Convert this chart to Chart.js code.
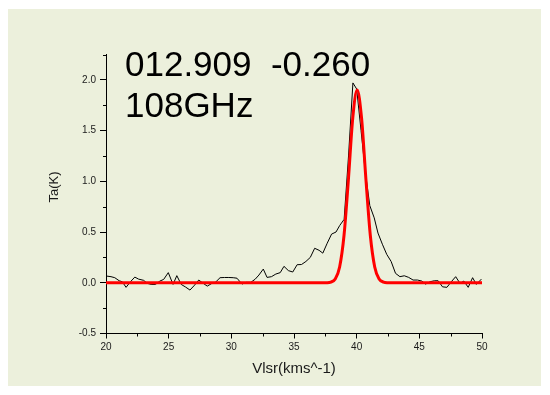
<!DOCTYPE html>
<html>
<head>
<meta charset="UTF-8">
<title>012.909 -0.260 108GHz</title>
<script src="https://cdn.jsdelivr.net/npm/chart.js"></script>
<style>
  body { margin: 0; background: #fff; }
  canvas { display: block; }
</style>
</head>
<body>
<canvas id="spec" width="550" height="395"></canvas>

<script>
    // observed spectrum (km/s, K)
    var obsV = [20.05, 20.4, 20.7, 21.05, 21.3, 21.6, 21.95, 22.3, 22.6, 23.0,
                23.3, 23.6, 23.95, 24.3, 24.6, 24.97, 25.35, 25.65, 26.0, 26.35,
                26.7, 27.07, 27.4, 27.76, 28.08, 28.45, 28.75, 29.1, 29.45, 29.8,
                30.15, 30.45, 30.85, 31.2, 31.55, 31.9, 32.2, 32.55, 32.85, 33.2,
                33.55, 33.9, 34.2, 34.55, 34.9, 35.25, 35.6, 35.95, 36.3, 36.65,
                37.0, 37.3, 37.65, 38.0, 38.35, 38.65, 39.0, 39.35, 39.7, 40.0,
                40.35, 40.7, 41.05, 41.4, 41.7, 42.05, 42.4, 42.75, 43.1, 43.45,
                43.8, 44.15, 44.5, 44.85, 45.2, 45.5, 45.85, 46.2, 46.5, 46.85,
                47.2, 47.55, 47.9, 48.25, 48.55, 48.9, 49.25, 49.55, 49.95];
    var obsT = [0.066, 0.06, 0.05, 0.02, 0.01, -0.045, 0.01, 0.056, 0.036, 0.024,
                -0.006, -0.016, -0.016, 0.017, 0.033, 0.1, -0.016, 0.07, -0.016, -0.042,
                -0.072, -0.023, 0.027, -0.006, -0.033, -0.006, 0.007, 0.05, 0.052, 0.052,
                0.05, 0.045, -0.013, 0.004, 0.004, 0.035, 0.076, 0.135, 0.053, 0.06,
                0.086, 0.1, 0.162, 0.12, 0.106, 0.178, 0.18, 0.21, 0.25, 0.34,
                0.32, 0.292, 0.39, 0.48, 0.5, 0.565, 0.625, 1.25, 1.97, 1.91,
                1.5, 1.08, 0.76, 0.64, 0.49, 0.38, 0.28, 0.21, 0.093, 0.06,
                0.069, 0.053, 0.027, 0.027, 0.017, -0.013, 0.01, 0.02, 0.02, -0.04,
                -0.045, 0.01, 0.06, -0.006, 0.017, -0.045, 0.05, -0.016, 0.036];

    // gaussian fit
    var fitV = [20, 37.2, 37.59, 37.94, 38.29, 38.64, 38.99, 39.34, 39.69, 40.04,
                40.39, 40.74, 41.09, 41.44, 41.79, 42.14, 42.49, 42.9, 50];
    var fitT = [0, 0, 0.001, 0.007, 0.038, 0.156, 0.466, 1.017, 1.625, 1.9,
                1.625, 1.017, 0.466, 0.156, 0.038, 0.007, 0.001, 0, 0];

    var xTicks = [20, 25, 30, 35, 40, 45, 50];
    var xMinor = [22.5, 27.5, 32.5, 37.5, 42.5, 47.5];
    var yTicks = [-0.5, 0, 0.5, 1, 1.5, 2];
    var yMinor = [-0.25, 0.25, 0.75, 1.25, 1.75, 2.25];

    var titleLines = ['012.909  -0.260', '108GHz'];
    var xTitle = 'Vlsr(kms^-1)';
    var yTitle = 'Ta(K)';

    function pairs(xs, ys) {
        return xs.map(function(x, i) { return { x: x, y: ys[i] }; });
    }

    var FONT = 'Arial, "Liberation Sans", sans-serif';

    // panel background, minor ticks and the texts
    var decor = {
        id: 'decor',
        beforeDraw: function(chart) {
            var c = chart.ctx;
            c.save();
            c.fillStyle = '#ffffff';
            c.fillRect(0, 0, chart.width, chart.height);
            c.fillStyle = 'rgb(236,240,220)';
            c.fillRect(8, 9, 533, 377);
            c.restore();
        },
        afterDraw: function(chart) {
            var c = chart.ctx;
            var xs = chart.scales.x, ys = chart.scales.y;
            var a = chart.chartArea;
            c.save();
            c.strokeStyle = '#000';
            c.lineWidth = 1;
            c.beginPath();
            yMinor.forEach(function(v) {
                var py = Math.round(ys.getPixelForValue(v)) + 0.5;
                c.moveTo(a.left - 3, py);
                c.lineTo(a.left, py);
            });
            xMinor.forEach(function(v) {
                var px = Math.round(xs.getPixelForValue(v)) + 0.5;
                c.moveTo(px, a.bottom);
                c.lineTo(px, a.bottom + 3);
            });
            c.stroke();

            c.fillStyle = '#000';
            c.font = '35px ' + FONT;
            c.textBaseline = 'alphabetic';
            c.textAlign = 'left';
            c.fillText(titleLines[0], 125, 76);
            c.fillText(titleLines[1], 125, 116.5);

            c.fillStyle = '#1a1a1a';
            c.font = '15px ' + FONT;
            c.textAlign = 'center';
            c.textBaseline = 'middle';
            c.fillText(xTitle, (a.left + a.right) / 2, 368.5);

            c.translate(54, 187);
            c.rotate(-Math.PI / 2);
            c.font = '13px ' + FONT;
            c.fillText(yTitle, 0, 0);
            c.restore();
        }
    };

    var ctx = document.getElementById('spec').getContext('2d');
    var chart = new Chart(ctx, {
        type: 'line',
        data: {
            datasets: [{
                label: 'fit',
                data: pairs(fitV, fitT),
                borderColor: 'rgb(255,0,0)',
                borderWidth: 3,
                pointRadius: 0,
                cubicInterpolationMode: 'monotone',
                fill: false,
                order: 0
            }, {
                label: 'spectrum',
                data: pairs(obsV, obsT),
                borderColor: '#000',
                borderWidth: 1,
                pointRadius: 0,
                tension: 0,
                fill: false,
                order: 1
            }]
        },
        options: {
            responsive: false,
            animation: false,
            events: [],
            layout: { padding: { left: 0, top: 54.5, right: 68, bottom: 0 } },
            plugins: { legend: { display: false }, tooltip: { enabled: false } },
            scales: {
                x: {
                    type: 'linear',
                    min: 20,
                    max: 50,
                    afterBuildTicks: function(s) { s.ticks = xTicks.map(function(v) { return { value: v }; }); },
                    afterFit: function(s) { s.height = 61.5; },
                    ticks: {
                        color: '#1a1a1a',
                        font: { family: FONT, size: 10 },
                        padding: 3,
                        maxRotation: 0,
                        callback: function(v) { return String(v); }
                    },
                    grid: { display: true, drawOnChartArea: false, drawTicks: true, tickLength: 5, color: '#000' },
                    border: { display: true, color: '#000', width: 1 }
                },
                y: {
                    min: -0.5,
                    max: 2.25,
                    afterBuildTicks: function(s) { s.ticks = yTicks.map(function(v) { return { value: v }; }); },
                    afterFit: function(s) { s.width = 106; },
                    ticks: {
                        color: '#1a1a1a',
                        font: { family: FONT, size: 10 },
                        padding: 4,
                        callback: function(v) { return Number(v).toFixed(1); }
                    },
                    grid: { display: true, drawOnChartArea: false, drawTicks: true, tickLength: 6, color: '#000' },
                    border: { display: true, color: '#000', width: 1 }
                }
            }
        },
        plugins: [decor]
    });
</script>
</body>
</html>
